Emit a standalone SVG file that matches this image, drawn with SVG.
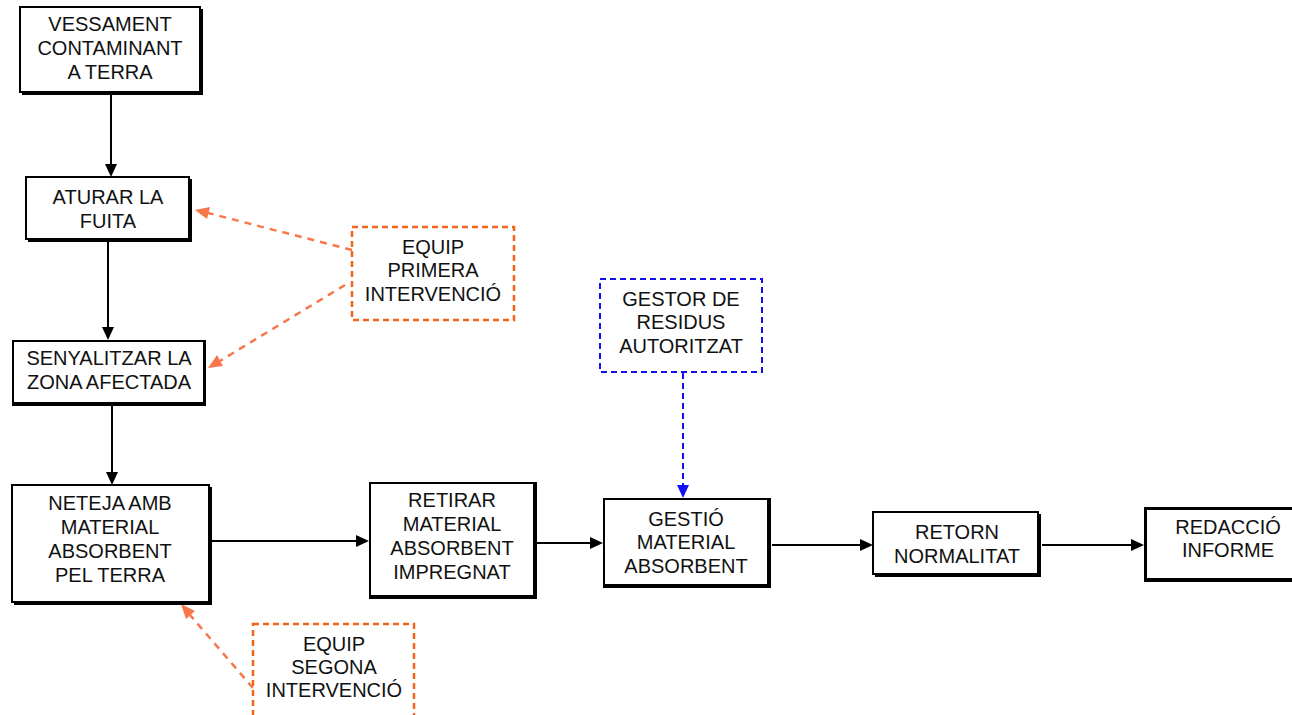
<svg xmlns="http://www.w3.org/2000/svg" width="1292" height="715" viewBox="0 0 1292 715">
<defs>
<style>
.box{fill:#fff;stroke:#000;stroke-width:2}
.sh{fill:#000}
.t{font-family:"Liberation Sans",Arial,sans-serif;font-size:20px;fill:#111;text-anchor:middle;dominant-baseline:central}
.ob{fill:#fff;stroke:#F26419;stroke-width:2.5;stroke-dasharray:6,4}
.bb{fill:#fff;stroke:#1010F0;stroke-width:2;stroke-dasharray:6,4}
.c{stroke:#000;stroke-width:2;fill:none}
.co{stroke:#F7774A;stroke-width:2.5;fill:none;stroke-dasharray:7,6}
.cb{stroke:#1010F0;stroke-width:2;fill:none;stroke-dasharray:6,4}
</style>
</defs>
<rect width="1292" height="715" fill="#fff"/>
<g id="connectors">
<line class="c" x1="111" y1="94" x2="111" y2="165"/>
<path d="M105,164L111,177L117,164z" fill="#000"/>
<line class="c" x1="108" y1="241" x2="108" y2="328"/>
<path d="M102,327L108,340L114,327z" fill="#000"/>
<line class="c" x1="112" y1="405" x2="112" y2="473"/>
<path d="M106,472L112,485L118,472z" fill="#000"/>
<line class="c" x1="211" y1="541" x2="357" y2="541"/>
<path d="M356,535L369,541L356,547z" fill="#000"/>
<line class="c" x1="536" y1="543" x2="591" y2="543"/>
<path d="M590,537L603,543L590,549z" fill="#000"/>
<line class="c" x1="772" y1="545" x2="861" y2="545"/>
<path d="M860,539L873,545L860,551z" fill="#000"/>
<line class="c" x1="1042" y1="545" x2="1132" y2="545"/>
<path d="M1131,539L1144,545L1131,551z" fill="#000"/>
<line class="co" x1="352" y1="250" x2="208" y2="213"/>
<path d="M195,210L210,207L207,219z" fill="#F7774A"/>
<line class="co" x1="345" y1="285" x2="220" y2="361"/>
<path d="M208,368L217,355L223,366z" fill="#F7774A"/>
<line class="co" x1="253" y1="688" x2="190" y2="615"/>
<path d="M181,604L195,611L186,619z" fill="#F7774A"/>
<line class="cb" x1="683" y1="373" x2="683" y2="486"/>
<path d="M677,485L683,498L689,485z" fill="#1010F0"/>
</g>
<g id="n1"><rect class="sh" x="22" y="9" width="181" height="86"/><rect class="box" x="20" y="7" width="180" height="85"/>
<text class="t" x="110" y="24">VESSAMENT</text><text class="t" x="110" y="48">CONTAMINANT</text><text class="t" x="110" y="72">A TERRA</text></g>
<g id="n2"><rect class="sh" x="28" y="179" width="164" height="63"/><rect class="box" x="26" y="177" width="163" height="62"/>
<text class="t" x="108" y="197">ATURAR LA</text><text class="t" x="108" y="221">FUITA</text></g>
<g id="n3"><rect class="sh" x="12" y="340" width="194" height="66"/><rect class="box" x="13" y="341" width="191" height="62"/>
<text class="t" x="109" y="358">SENYALITZAR LA</text><text class="t" x="109" y="382">ZONA AFECTADA</text></g>
<g id="n4"><rect class="sh" x="14" y="487" width="198" height="118"/><rect class="box" x="12" y="485" width="197" height="117"/>
<text class="t" x="110" y="503">NETEJA AMB</text><text class="t" x="110" y="527">MATERIAL</text><text class="t" x="110" y="551">ABSORBENT</text><text class="t" x="110" y="575">PEL TERRA</text></g>
<g id="n5"><rect class="sh" x="369" y="482" width="168" height="117"/><rect class="box" x="370" y="483" width="164" height="113"/>
<text class="t" x="452" y="500">RETIRAR</text><text class="t" x="452" y="524">MATERIAL</text><text class="t" x="452" y="548">ABSORBENT</text><text class="t" x="452" y="572">IMPREGNAT</text></g>
<g id="n6"><rect class="sh" x="603" y="498" width="168" height="90"/><rect class="box" x="604" y="499" width="164" height="86"/>
<text class="t" x="686" y="519">GESTIÓ</text><text class="t" x="686" y="542">MATERIAL</text><text class="t" x="686" y="566">ABSORBENT</text></g>
<g id="n7"><rect class="sh" x="875" y="514" width="166" height="63"/><rect class="box" x="873" y="512" width="165" height="62"/>
<text class="t" x="957" y="532">RETORN</text><text class="t" x="957" y="556">NORMALITAT</text></g>
<g id="n8"><rect class="sh" x="1144" y="507" width="150" height="75"/><rect class="box" x="1146" y="509" width="150" height="70"/>
<text class="t" x="1228" y="527">REDACCIÓ</text><text class="t" x="1228" y="550">INFORME</text></g>
<g id="o1"><rect class="ob" x="352" y="227" width="162" height="93"/>
<text class="t" x="433" y="247">EQUIP</text><text class="t" x="433" y="270">PRIMERA</text><text class="t" x="433" y="294">INTERVENCIÓ</text></g>
<g id="o2"><rect class="ob" x="253" y="624" width="161" height="100"/>
<text class="t" x="334" y="644">EQUIP</text><text class="t" x="334" y="667">SEGONA</text><text class="t" x="334" y="690">INTERVENCIÓ</text></g>
<g id="b1"><rect class="bb" x="600" y="279" width="162" height="93"/>
<text class="t" x="681" y="299">GESTOR DE</text><text class="t" x="681" y="322">RESIDUS</text><text class="t" x="681" y="346">AUTORITZAT</text></g>
</svg>
